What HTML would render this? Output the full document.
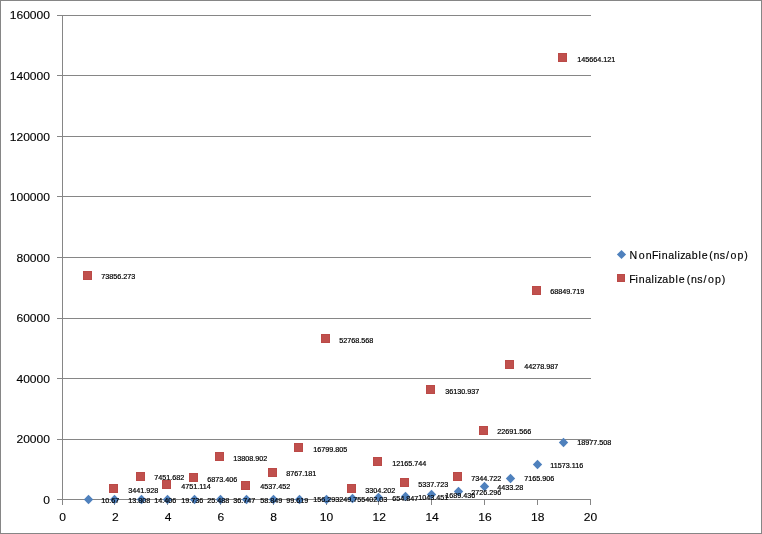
<!DOCTYPE html>
<html lang="en">
<head>
<meta charset="utf-8">
<title>NonFinalizable vs Finalizable (ns/op)</title>
<style>
html,body{margin:0;padding:0;background:#fff;overflow:hidden}
svg{display:block}
text{font-family:"Liberation Sans",sans-serif;fill:#000}
.ax{font-size:11.6px;stroke:#000;stroke-width:0.12px}
.dl{font-size:6.9px;stroke:#000;stroke-width:0.2px}
.lg{font-size:10.6px;stroke:#000;stroke-width:0.15px}
</style>
</head>
<body>
<svg width="762" height="534" viewBox="0 0 762 534">
<rect x="0" y="0" width="762" height="534" fill="#fff"/>
<rect x="0.5" y="0.5" width="761" height="533" fill="none" stroke="#868686" stroke-width="1" shape-rendering="crispEdges"/>
<g stroke="#868686" stroke-width="1" shape-rendering="crispEdges">
<line x1="57" y1="499.5" x2="591" y2="499.5"/>
<line x1="57" y1="439.5" x2="591" y2="439.5"/>
<line x1="57" y1="378.5" x2="591" y2="378.5"/>
<line x1="57" y1="318.5" x2="591" y2="318.5"/>
<line x1="57" y1="257.5" x2="591" y2="257.5"/>
<line x1="57" y1="196.5" x2="591" y2="196.5"/>
<line x1="57" y1="136.5" x2="591" y2="136.5"/>
<line x1="57" y1="75.5" x2="591" y2="75.5"/>
<line x1="57" y1="15.5" x2="591" y2="15.5"/>
<line x1="62.5" y1="15" x2="62.5" y2="505"/>
<line x1="114.5" y1="499" x2="114.5" y2="505"/>
<line x1="167.5" y1="499" x2="167.5" y2="505"/>
<line x1="220.5" y1="499" x2="220.5" y2="505"/>
<line x1="273.5" y1="499" x2="273.5" y2="505"/>
<line x1="326.5" y1="499" x2="326.5" y2="505"/>
<line x1="378.5" y1="499" x2="378.5" y2="505"/>
<line x1="431.5" y1="499" x2="431.5" y2="505"/>
<line x1="484.5" y1="499" x2="484.5" y2="505"/>
<line x1="537.5" y1="499" x2="537.5" y2="505"/>
<line x1="590.5" y1="499" x2="590.5" y2="505"/>
</g>
<g>
<text class="ax" transform="translate(50.00 504.00) scale(1.04 1)" text-anchor="end">0</text>
<text class="ax" transform="translate(50.00 443.00) scale(1.04 1)" text-anchor="end">20000</text>
<text class="ax" transform="translate(50.00 383.00) scale(1.04 1)" text-anchor="end">40000</text>
<text class="ax" transform="translate(50.00 322.00) scale(1.04 1)" text-anchor="end">60000</text>
<text class="ax" transform="translate(50.00 262.00) scale(1.04 1)" text-anchor="end">80000</text>
<text class="ax" transform="translate(50.00 201.00) scale(1.04 1)" text-anchor="end">100000</text>
<text class="ax" transform="translate(50.00 141.00) scale(1.04 1)" text-anchor="end">120000</text>
<text class="ax" transform="translate(50.00 80.00) scale(1.04 1)" text-anchor="end">140000</text>
<text class="ax" transform="translate(50.00 19.00) scale(1.04 1)" text-anchor="end">160000</text>
</g>
<g>
<text class="ax" transform="translate(62.50 521.10) scale(1.04 1)" text-anchor="middle">0</text>
<text class="ax" transform="translate(115.30 521.10) scale(1.04 1)" text-anchor="middle">2</text>
<text class="ax" transform="translate(168.10 521.10) scale(1.04 1)" text-anchor="middle">4</text>
<text class="ax" transform="translate(220.90 521.10) scale(1.04 1)" text-anchor="middle">6</text>
<text class="ax" transform="translate(273.70 521.10) scale(1.04 1)" text-anchor="middle">8</text>
<text class="ax" transform="translate(326.50 521.10) scale(1.04 1)" text-anchor="middle">10</text>
<text class="ax" transform="translate(379.30 521.10) scale(1.04 1)" text-anchor="middle">12</text>
<text class="ax" transform="translate(432.10 521.10) scale(1.04 1)" text-anchor="middle">14</text>
<text class="ax" transform="translate(484.90 521.10) scale(1.04 1)" text-anchor="middle">16</text>
<text class="ax" transform="translate(537.70 521.10) scale(1.04 1)" text-anchor="middle">18</text>
<text class="ax" transform="translate(590.50 521.10) scale(1.04 1)" text-anchor="middle">20</text>
</g>
<g>
<path d="M88.5 494.8L93.2 499.5L88.5 504.2L83.8 499.5Z" fill="#4f81bd"/>
<path d="M114.5 494.8L119.2 499.5L114.5 504.2L109.8 499.5Z" fill="#4f81bd"/>
<path d="M141.5 494.8L146.2 499.5L141.5 504.2L136.8 499.5Z" fill="#4f81bd"/>
<path d="M167.5 494.8L172.2 499.5L167.5 504.2L162.8 499.5Z" fill="#4f81bd"/>
<path d="M194.5 494.8L199.2 499.5L194.5 504.2L189.8 499.5Z" fill="#4f81bd"/>
<path d="M220.5 494.8L225.2 499.5L220.5 504.2L215.8 499.5Z" fill="#4f81bd"/>
<path d="M246.5 494.8L251.2 499.5L246.5 504.2L241.8 499.5Z" fill="#4f81bd"/>
<path d="M273.5 494.8L278.2 499.5L273.5 504.2L268.8 499.5Z" fill="#4f81bd"/>
<path d="M299.5 494.8L304.2 499.5L299.5 504.2L294.8 499.5Z" fill="#4f81bd"/>
<path d="M326.5 494.8L331.2 499.5L326.5 504.2L321.8 499.5Z" fill="#4f81bd"/>
<path d="M352.5 493.8L357.2 498.5L352.5 503.2L347.8 498.5Z" fill="#4f81bd"/>
<path d="M378.5 492.8L383.2 497.5L378.5 502.2L373.8 497.5Z" fill="#4f81bd"/>
<path d="M405.5 491.8L410.2 496.5L405.5 501.2L400.8 496.5Z" fill="#4f81bd"/>
<path d="M431.5 489.8L436.2 494.5L431.5 499.2L426.8 494.5Z" fill="#4f81bd"/>
<path d="M458.5 486.8L463.2 491.5L458.5 496.2L453.8 491.5Z" fill="#4f81bd"/>
<path d="M484.5 481.8L489.2 486.5L484.5 491.2L479.8 486.5Z" fill="#4f81bd"/>
<path d="M510.5 473.8L515.2 478.5L510.5 483.2L505.8 478.5Z" fill="#4f81bd"/>
<path d="M537.5 459.8L542.2 464.5L537.5 469.2L532.8 464.5Z" fill="#4f81bd"/>
<path d="M563.5 437.8L568.2 442.5L563.5 447.2L558.8 442.5Z" fill="#4f81bd"/>
</g>
<g>
<rect x="83.5" y="271.5" width="8" height="8" fill="#c0504d" stroke="#bb4a47" stroke-width="1" shape-rendering="crispEdges"/>
<rect x="109.5" y="484.5" width="8" height="8" fill="#c0504d" stroke="#bb4a47" stroke-width="1" shape-rendering="crispEdges"/>
<rect x="136.5" y="472.5" width="8" height="8" fill="#c0504d" stroke="#bb4a47" stroke-width="1" shape-rendering="crispEdges"/>
<rect x="162.5" y="480.5" width="8" height="8" fill="#c0504d" stroke="#bb4a47" stroke-width="1" shape-rendering="crispEdges"/>
<rect x="189.5" y="473.5" width="8" height="8" fill="#c0504d" stroke="#bb4a47" stroke-width="1" shape-rendering="crispEdges"/>
<rect x="215.5" y="452.5" width="8" height="8" fill="#c0504d" stroke="#bb4a47" stroke-width="1" shape-rendering="crispEdges"/>
<rect x="241.5" y="481.5" width="8" height="8" fill="#c0504d" stroke="#bb4a47" stroke-width="1" shape-rendering="crispEdges"/>
<rect x="268.5" y="468.5" width="8" height="8" fill="#c0504d" stroke="#bb4a47" stroke-width="1" shape-rendering="crispEdges"/>
<rect x="294.5" y="443.5" width="8" height="8" fill="#c0504d" stroke="#bb4a47" stroke-width="1" shape-rendering="crispEdges"/>
<rect x="321.5" y="334.5" width="8" height="8" fill="#c0504d" stroke="#bb4a47" stroke-width="1" shape-rendering="crispEdges"/>
<rect x="347.5" y="484.5" width="8" height="8" fill="#c0504d" stroke="#bb4a47" stroke-width="1" shape-rendering="crispEdges"/>
<rect x="373.5" y="457.5" width="8" height="8" fill="#c0504d" stroke="#bb4a47" stroke-width="1" shape-rendering="crispEdges"/>
<rect x="400.5" y="478.5" width="8" height="8" fill="#c0504d" stroke="#bb4a47" stroke-width="1" shape-rendering="crispEdges"/>
<rect x="426.5" y="385.5" width="8" height="8" fill="#c0504d" stroke="#bb4a47" stroke-width="1" shape-rendering="crispEdges"/>
<rect x="453.5" y="472.5" width="8" height="8" fill="#c0504d" stroke="#bb4a47" stroke-width="1" shape-rendering="crispEdges"/>
<rect x="479.5" y="426.5" width="8" height="8" fill="#c0504d" stroke="#bb4a47" stroke-width="1" shape-rendering="crispEdges"/>
<rect x="505.5" y="360.5" width="8" height="8" fill="#c0504d" stroke="#bb4a47" stroke-width="1" shape-rendering="crispEdges"/>
<rect x="532.5" y="286.5" width="8" height="8" fill="#c0504d" stroke="#bb4a47" stroke-width="1" shape-rendering="crispEdges"/>
<rect x="558.5" y="53.5" width="8" height="8" fill="#c0504d" stroke="#bb4a47" stroke-width="1" shape-rendering="crispEdges"/>
</g>
<g>
<text class="dl" transform="translate(101.20 503.00) scale(1.0435 1)">10.67</text>
<text class="dl" transform="translate(128.20 503.00) scale(1.0435 1)">13.808</text>
<text class="dl" transform="translate(154.20 503.00) scale(1.0435 1)">14.406</text>
<text class="dl" transform="translate(181.20 503.00) scale(1.0435 1)">19.736</text>
<text class="dl" transform="translate(207.20 503.00) scale(1.0435 1)">25.488</text>
<text class="dl" transform="translate(233.20 503.00) scale(1.0435 1)">36.747</text>
<text class="dl" transform="translate(260.20 503.00) scale(1.0435 1)">58.849</text>
<text class="dl" transform="translate(286.20 503.00) scale(1.0435 1)">99.619</text>
<text class="dl" transform="translate(313.20 502.00) scale(1.0435 1)">156.293</text>
<text class="dl" transform="translate(339.20 502.00) scale(1.0435 1)">249.755</text>
<text class="dl" transform="translate(365.20 502.00) scale(1.0435 1)">402.03</text>
<text class="dl" transform="translate(392.20 501.00) scale(1.0435 1)">654.847</text>
<text class="dl" transform="translate(418.20 500.00) scale(1.0435 1)">1043.451</text>
<text class="dl" transform="translate(445.20 498.00) scale(1.0435 1)">1689.436</text>
<text class="dl" transform="translate(471.20 495.00) scale(1.0435 1)">2726.296</text>
<text class="dl" transform="translate(497.20 490.00) scale(1.0435 1)">4433.28</text>
<text class="dl" transform="translate(524.20 481.00) scale(1.0435 1)">7165.906</text>
<text class="dl" transform="translate(550.20 468.00) scale(1.0435 1)">11573.116</text>
<text class="dl" transform="translate(577.20 445.00) scale(1.0435 1)">18977.508</text>
<text class="dl" transform="translate(101.20 279.00) scale(1.0435 1)">73856.273</text>
<text class="dl" transform="translate(128.20 493.00) scale(1.0435 1)">3441.928</text>
<text class="dl" transform="translate(154.20 480.00) scale(1.0435 1)">7451.682</text>
<text class="dl" transform="translate(181.20 489.00) scale(1.0435 1)">4751.114</text>
<text class="dl" transform="translate(207.20 482.00) scale(1.0435 1)">6873.406</text>
<text class="dl" transform="translate(233.20 461.00) scale(1.0435 1)">13808.902</text>
<text class="dl" transform="translate(260.20 489.00) scale(1.0435 1)">4537.452</text>
<text class="dl" transform="translate(286.20 476.00) scale(1.0435 1)">8767.181</text>
<text class="dl" transform="translate(313.20 452.00) scale(1.0435 1)">16799.805</text>
<text class="dl" transform="translate(339.20 343.00) scale(1.0435 1)">52768.568</text>
<text class="dl" transform="translate(365.20 493.00) scale(1.0435 1)">3304.202</text>
<text class="dl" transform="translate(392.20 466.00) scale(1.0435 1)">12165.744</text>
<text class="dl" transform="translate(418.20 487.00) scale(1.0435 1)">5337.723</text>
<text class="dl" transform="translate(445.20 394.00) scale(1.0435 1)">36130.937</text>
<text class="dl" transform="translate(471.20 481.00) scale(1.0435 1)">7344.722</text>
<text class="dl" transform="translate(497.20 434.00) scale(1.0435 1)">22691.566</text>
<text class="dl" transform="translate(524.20 369.00) scale(1.0435 1)">44278.987</text>
<text class="dl" transform="translate(550.20 294.00) scale(1.0435 1)">68849.719</text>
<text class="dl" transform="translate(577.20 62.00) scale(1.0435 1)">145664.121</text>
</g>
<path d="M621.5 249.9L626.1 254.5L621.5 259.1L616.9 254.5Z" fill="#4f81bd"/>
<text class="lg" transform="scale(1 1.0943)" y="236.58" x="629.47 638.85 645.85 652.06 658.62 661.85 668.35 674.62 677.62 680.15 685.35 691.85 698.62 701.85 709.14 713.45 719.75 725.93 730.45 737.45 744.14">NonFinalizable(ns/op)</text>
<rect x="617.5" y="274.5" width="7" height="7" fill="#c0504d" stroke="#bb4a47" stroke-width="1" shape-rendering="crispEdges"/>
<text class="lg" transform="scale(1 1.0943)" y="258.42" x="629.36 635.62 638.85 645.35 651.62 654.62 657.15 662.35 668.85 675.62 678.85 686.64 690.95 697.25 703.43 707.95 714.95 721.64">Finalizable(ns/op)</text>
</svg>
</body>
</html>
